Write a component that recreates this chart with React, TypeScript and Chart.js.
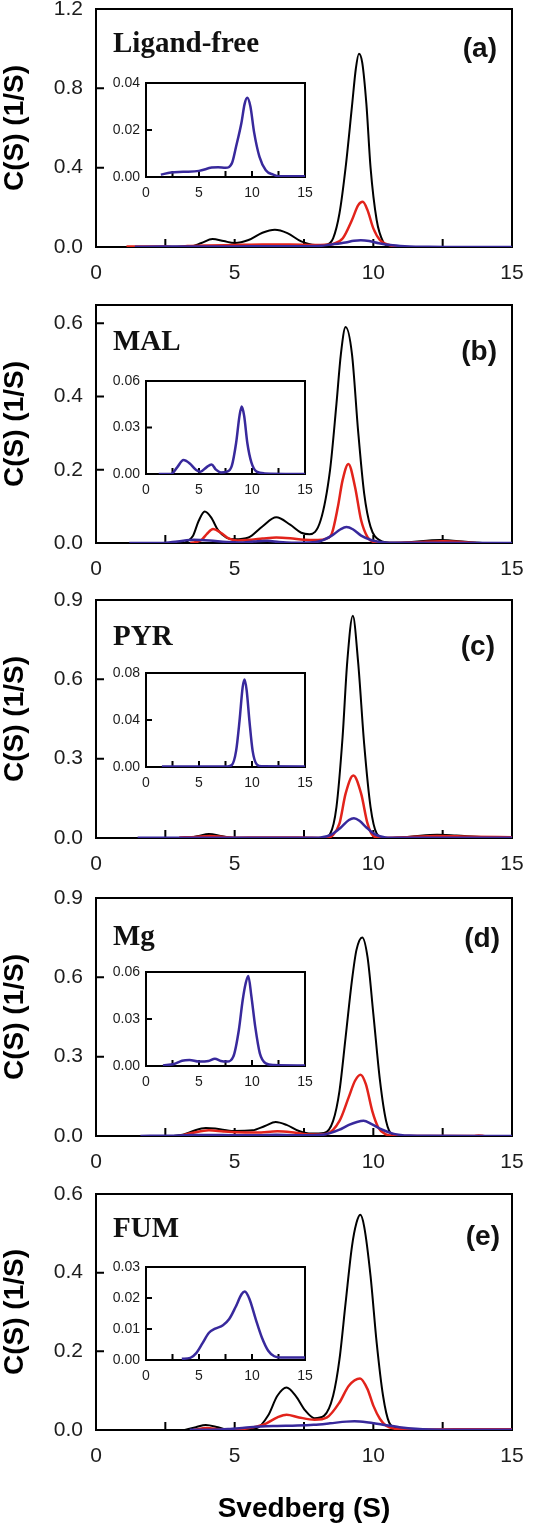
import React, { useEffect, useRef } from "react";
import { Chart, registerables } from "chart.js";

Chart.register(...registerables);
Chart.defaults.font.family = '"Liberation Sans", Arial, sans-serif';

// ---------- x-axis (Svedberg) tick labels ----------
const X_MIN = 0;
const X_MAX = 15;
const X_LABEL_STEP = 5;
const X_MINOR_TICKS = [2.5, 5, 7.5, 10, 12.5];

// ---------- (a) Ligand-free ----------
const A_BLACK_S = [2.4, 3.4, 3.8, 4.2, 4.6, 5.0, 5.5, 6.0, 6.45, 6.9, 7.4, 7.9, 8.3, 8.55, 8.78, 9.0, 9.23, 9.37, 9.48, 9.6, 9.75, 9.9, 10.12, 10.35, 10.57, 10.9, 11.3];
const A_BLACK_C = [0, 0.002, 0.02, 0.04, 0.03, 0.02, 0.035, 0.072, 0.087, 0.07, 0.028, 0.01, 0.012, 0.044, 0.17, 0.4, 0.71, 0.9, 0.975, 0.93, 0.72, 0.4, 0.136, 0.027, 0.005, 0.001, 0];
const A_RED_S = [1.1, 2.5, 2.8, 3.3, 4.0, 5.0, 6.0, 7.0, 7.8, 8.3, 8.55, 8.9, 9.23, 9.45, 9.62, 9.79, 10.0, 10.24, 10.57, 11.0];
const A_RED_C = [0.002, 0.002, 0, 0.005, 0.008, 0.01, 0.012, 0.012, 0.01, 0.011, 0.015, 0.044, 0.136, 0.21, 0.228, 0.186, 0.094, 0.035, 0.01, 0];
const A_BLUE_S = [1.4, 2.35, 3.5, 5.0, 6.2, 6.8, 7.5, 8.1, 8.5, 9.0, 9.3, 9.55, 9.85, 10.2, 10.7, 11.3, 12.0, 12.6, 15];
const A_BLUE_C = [0.001, 0.0019, 0.0022, 0.0026, 0.004, 0.0042, 0.0039, 0.0058, 0.013, 0.023, 0.031, 0.0337, 0.03, 0.019, 0.0087, 0.0029, 0.001, 0.0003, 0.0003];

// ---------- (b) MAL ----------
const B_BLACK_S = [3.2, 3.5, 3.7, 3.92, 4.15, 4.4, 4.7, 5.0, 5.5, 6.0, 6.5, 7.0, 7.4, 7.7, 8.1, 8.44, 8.67, 8.83, 9.0, 9.23, 9.45, 9.67, 9.9, 10.24, 10.6, 11.0, 12.4, 13.5, 14.0];
const B_BLACK_C = [0, 0.02, 0.06, 0.086, 0.07, 0.035, 0.015, 0.01, 0.015, 0.045, 0.07, 0.05, 0.028, 0.024, 0.062, 0.2, 0.38, 0.516, 0.59, 0.516, 0.307, 0.135, 0.044, 0.007, 0.001, 0.001, 0.008, 0.002, 0];
const B_RED_S = [3.4, 3.8, 4.0, 4.22, 4.5, 4.8, 5.1, 5.6, 6.0, 6.5, 7.0, 7.5, 8.0, 8.3, 8.5, 8.72, 8.89, 9.1, 9.34, 9.56, 9.79, 10.0, 10.3, 11.5, 12.5, 13.7];
const B_RED_C = [0, 0.008, 0.025, 0.038, 0.028, 0.012, 0.007, 0.009, 0.012, 0.015, 0.013, 0.009, 0.008, 0.012, 0.025, 0.098, 0.171, 0.216, 0.153, 0.062, 0.016, 0.003, 0, 0.002, 0.005, 0];
const B_BLUE_S = [1.2, 2.35, 2.94, 3.53, 4.1, 4.7, 5.15, 5.7, 6.18, 6.6, 7.06, 7.65, 8.1, 8.5, 8.82, 9.03, 9.26, 9.56, 9.94, 10.44, 11.2, 15];
const B_BLUE_C = [0, 0, 0.0043, 0.009, 0.007, 0.0028, 0.0015, 0.0043, 0.0062, 0.0028, 0.001, 0.0015, 0.0054, 0.02, 0.0375, 0.0435, 0.0375, 0.02, 0.0075, 0.0015, 0.0004, 0];

// ---------- (c) PYR ----------
const C_BLACK_S = [0.8, 3.3, 3.7, 4.07, 4.5, 4.9, 8.2, 8.44, 8.67, 8.89, 9.06, 9.26, 9.45, 9.67, 9.9, 10.12, 10.4, 11.0, 11.6, 12.3, 13.0, 14.0, 15];
const C_BLACK_C = [0, 0, 0.008, 0.015, 0.008, 0, 0, 0.015, 0.117, 0.38, 0.667, 0.84, 0.667, 0.355, 0.117, 0.0175, 0, 0.002, 0.008, 0.012, 0.009, 0.004, 0.003];
const C_RED_S = [3.0, 3.6, 4.1, 4.6, 5.0, 6.0, 7.3, 8.3, 8.55, 8.78, 9.0, 9.28, 9.56, 9.79, 10.0, 10.3, 11.0, 12.3, 13.5, 15];
const C_RED_C = [0.002, 0.004, 0.008, 0.004, 0.001, 0.002, 0.002, 0, 0.012, 0.055, 0.1675, 0.236, 0.1675, 0.055, 0.0075, 0, 0.002, 0.008, 0.005, 0.003];
const C_BLUE_S = [1.5, 7.7, 8.1, 8.5, 8.82, 9.12, 9.3, 9.5, 9.76, 10.06, 10.44, 10.9, 15];
const C_BLUE_C = [0.0005, 0.0005, 0.0017, 0.0137, 0.039, 0.068, 0.0745, 0.065, 0.039, 0.0137, 0.0023, 0.0006, 0.0005];

// ---------- (d) Mg ----------
const D_BLACK_S = [2.8, 3.17, 3.5, 3.96, 4.3, 4.97, 5.64, 6.09, 6.48, 6.87, 7.32, 7.77, 8.22, 8.55, 8.78, 9.0, 9.23, 9.39, 9.6, 9.79, 10.0, 10.24, 10.46, 10.68, 11.0];
const D_BLACK_C = [0, 0.006, 0.019, 0.03, 0.028, 0.019, 0.0215, 0.038, 0.053, 0.042, 0.019, 0.009, 0.011, 0.057, 0.171, 0.373, 0.589, 0.703, 0.751, 0.677, 0.462, 0.209, 0.057, 0.006, 0];
const D_RED_S = [3.0, 3.5, 4.07, 4.6, 5.08, 5.8, 6.54, 7.2, 7.66, 8.3, 8.78, 9.11, 9.34, 9.54, 9.73, 9.96, 10.18, 10.46, 10.8, 13.6, 13.8, 14.0];
const D_RED_C = [0, 0.012, 0.0215, 0.017, 0.014, 0.013, 0.018, 0.012, 0.006, 0.008, 0.057, 0.146, 0.209, 0.232, 0.196, 0.095, 0.032, 0.006, 0, 0, 0.002, 0];
const D_BLUE_S = [1.6, 2.65, 3.4, 4.1, 5.0, 5.9, 6.5, 7.06, 7.65, 8.24, 8.76, 9.12, 9.41, 9.65, 9.94, 10.3, 10.74, 11.3, 12.06, 15];
const D_BLUE_C = [0.0004, 0.0013, 0.0034, 0.0039, 0.0028, 0.0032, 0.0047, 0.0032, 0.0028, 0.006, 0.023, 0.042, 0.053, 0.0575, 0.0446, 0.0253, 0.0081, 0.0017, 0.0006, 0.0003];

// ---------- (e) FUM ----------
const E_BLACK_S = [3.2, 3.6, 3.96, 4.4, 4.8, 5.8, 6.2, 6.54, 6.87, 7.2, 7.55, 7.88, 8.22, 8.55, 8.78, 9.0, 9.23, 9.39, 9.53, 9.67, 9.9, 10.12, 10.35, 10.57, 10.85, 11.2];
const E_BLACK_C = [0, 0.007, 0.013, 0.007, 0, 0.005, 0.036, 0.087, 0.108, 0.087, 0.049, 0.03, 0.036, 0.087, 0.18, 0.323, 0.467, 0.526, 0.547, 0.517, 0.391, 0.222, 0.087, 0.019, 0.004, 0];
const E_RED_S = [3.5, 4.0, 4.5, 5.2, 5.6, 6.09, 6.54, 6.87, 7.32, 7.88, 8.33, 8.78, 9.11, 9.52, 9.79, 10.0, 10.24, 10.46, 10.8, 11.2, 13.0, 15];
const E_RED_C = [0, 0.005, 0.001, 0.002, 0.006, 0.015, 0.032, 0.039, 0.032, 0.026, 0.032, 0.07, 0.112, 0.131, 0.104, 0.062, 0.028, 0.011, 0.003, 0.001, 0.002, 0.002];
const E_BLUE_S = [3.38, 4.18, 4.76, 5.35, 5.94, 6.53, 7.26, 7.85, 8.44, 9.03, 9.32, 9.76, 10.35, 10.94, 11.53, 12.1, 12.7, 15];
const E_BLUE_C = [0.0004, 0.0007, 0.0023, 0.0055, 0.0088, 0.0101, 0.0112, 0.0132, 0.017, 0.0213, 0.0221, 0.0197, 0.0132, 0.0072, 0.003, 0.0012, 0.0008, 0.0008];

// ---------- axis ranges / tick steps ----------
const MAIN_Y_MAX = [1.2, 0.65, 0.9, 0.9, 0.6];
const MAIN_Y_STEP = [0.4, 0.2, 0.3, 0.3, 0.2];
const INSET_Y_MAX = [0.04, 0.06, 0.08, 0.06, 0.03];
const INSET_Y_STEP = [0.02, 0.03, 0.04, 0.03, 0.01];
const PANEL_NAMES = ["Ligand-free", "MAL", "PYR", "Mg", "FUM"];
const PANEL_TAGS = ["(a)", "(b)", "(c)", "(d)", "(e)"];
const Y_TITLE = "C(S) (1/S)";
const X_TITLE = "Svedberg (S)";

const SERIES = [
  [[A_BLACK_S, A_BLACK_C], [A_RED_S, A_RED_C], [A_BLUE_S, A_BLUE_C]],
  [[B_BLACK_S, B_BLACK_C], [B_RED_S, B_RED_C], [B_BLUE_S, B_BLUE_C]],
  [[C_BLACK_S, C_BLACK_C], [C_RED_S, C_RED_C], [C_BLUE_S, C_BLUE_C]],
  [[D_BLACK_S, D_BLACK_C], [D_RED_S, D_RED_C], [D_BLUE_S, D_BLUE_C]],
  [[E_BLACK_S, E_BLACK_C], [E_RED_S, E_RED_C], [E_BLUE_S, E_BLUE_C]],
];

// ---------- layout (pixels) ----------
const PAGE_W = 559;
const PAGE_H = 1526;
const PLOT_LEFT = 96;
const PLOT_RIGHT = 512;
const PANEL_TOP = [9, 305, 600, 898, 1194];
const PANEL_H = [238, 238, 238, 238, 236];
const NAME_DY = [43, 45, 45, 47, 43];
const TAG_DY = [48, 55, 55, 49, 51];
const TAG_RIGHT = [497, 497, 495, 500, 500];
const INSET_LEFT = 146;
const INSET_RIGHT = 305;
const INSET_TOP = [83, 381, 673, 972, 1267];
const INSET_BOTTOM = [177, 474, 767, 1066, 1360];

const COLORS = ["#000000", "#e2231b", "#38299c"];
const WIDTHS = [2, 2.5, 2.5];
const ORDERS = [3, 2, 1];
const TICK_COLOR = "#1c1c1c";

function toPoints(s: number[], c: number[]) {
  return s.map((x, i) => ({ x, y: c[i] }));
}

function innerTicks(max: number, step: number) {
  const out: number[] = [];
  for (let k = 1; k * step < max - 1e-9; k++) out.push(k * step);
  return out;
}

const framePlugin = {
  id: "frame",
  beforeDatasetsDraw(chart: any, _args: any, opts: any) {
    const { ctx, chartArea: a, scales } = chart;
    ctx.save();
    ctx.strokeStyle = "#000";
    ctx.lineWidth = opts.lw;
    ctx.beginPath();
    for (const v of opts.yTicks) {
      const py = scales.y.getPixelForValue(v);
      ctx.moveTo(a.left, py);
      ctx.lineTo(a.left + opts.len, py);
    }
    for (const v of opts.xTicks) {
      const px = scales.x.getPixelForValue(v);
      ctx.moveTo(px, a.bottom);
      ctx.lineTo(px, a.bottom - opts.len);
    }
    ctx.stroke();
    ctx.strokeRect(a.left, a.top, a.right - a.left, a.bottom - a.top);
    ctx.restore();
  },
};

const labelPlugin = {
  id: "panelLabels",
  afterDraw(chart: any, _args: any, opts: any) {
    if (!opts || !opts.name) return;
    const { ctx } = chart;
    ctx.save();
    ctx.fillStyle = "#111";
    ctx.textBaseline = "alphabetic";
    ctx.font = 'bold 29px "Liberation Serif", "DejaVu Serif", serif';
    ctx.textAlign = "left";
    ctx.fillText(opts.name, opts.nameX, opts.nameY);
    ctx.font = 'bold 28px "Liberation Sans", Arial, sans-serif';
    ctx.textAlign = "right";
    ctx.fillText(opts.tag, opts.tagX, opts.tagY);
    ctx.restore();
  },
};

function MainPanel({ i }: { i: number }) {
  const ref = useRef<HTMLCanvasElement>(null);
  const padTop = 20;
  const canvasTop = PANEL_TOP[i] - padTop;
  const last = i === 4;
  const H = last ? PAGE_H - canvasTop : 300;
  useEffect(() => {
    const plotBottom = padTop + PANEL_H[i];
    const datasets = SERIES[i].map(([s, c], k) => ({
      data: toPoints(s, c),
      borderColor: COLORS[k],
      borderWidth: WIDTHS[k],
      pointRadius: 0,
      fill: false,
      cubicInterpolationMode: "monotone" as const,
      order: ORDERS[k],
    }));
    const chart = new Chart(ref.current as HTMLCanvasElement, {
      type: "line",
      data: { datasets },
      plugins: [framePlugin, labelPlugin],
      options: {
        animation: false,
        responsive: false,
        devicePixelRatio: 1,
        layout: { padding: { left: 0, right: PAGE_W - PLOT_RIGHT, top: padTop, bottom: 0 } },
        plugins: {
          legend: { display: false },
          tooltip: { enabled: false },
          frame: { lw: 2, len: 8, xTicks: X_MINOR_TICKS, yTicks: innerTicks(MAIN_Y_MAX[i], MAIN_Y_STEP[i]) },
          panelLabels: {
            name: PANEL_NAMES[i],
            tag: PANEL_TAGS[i],
            nameX: 113,
            nameY: padTop + NAME_DY[i],
            tagX: TAG_RIGHT[i],
            tagY: padTop + TAG_DY[i],
          },
        } as any,
        scales: {
          x: {
            type: "linear",
            min: X_MIN,
            max: X_MAX,
            grid: { display: false, drawTicks: false },
            border: { display: false },
            ticks: { stepSize: X_LABEL_STEP, padding: 14, color: TICK_COLOR, font: { size: 21 }, maxRotation: 0 },
            title: last
              ? { display: true, text: X_TITLE, color: "#000", font: { size: 28, weight: "bold" }, padding: { top: 0, bottom: 0 } }
              : { display: false },
            afterFit: (s: any) => {
              s.height = H - plotBottom;
              s.paddingLeft = 0;
              s.paddingRight = 0;
            },
          },
          y: {
            type: "linear",
            min: 0,
            max: MAIN_Y_MAX[i],
            grid: { display: false, drawTicks: false },
            border: { display: false },
            ticks: {
              stepSize: MAIN_Y_STEP[i],
              includeBounds: false,
              padding: 13,
              color: TICK_COLOR,
              font: { size: 21 },
              callback: (v: any) => Number(v).toFixed(1),
            },
            title: { display: true, text: Y_TITLE, color: "#000", font: { size: 28, weight: "bold" }, padding: { top: -2, bottom: 0 } },
            afterFit: (s: any) => {
              s.width = PLOT_LEFT;
              s.paddingTop = 0;
              s.paddingBottom = 0;
            },
          },
        },
      } as any,
    });
    return () => chart.destroy();
  }, []);
  return (
    <canvas
      ref={ref}
      width={PAGE_W}
      height={H}
      style={{ position: "absolute", left: 0, top: canvasTop, width: PAGE_W, height: H }}
    />
  );
}

function InsetPanel({ i }: { i: number }) {
  const ref = useRef<HTMLCanvasElement>(null);
  const cLeft = 100;
  const padTop = 10;
  const cTop = INSET_TOP[i] - padTop;
  const W = 230;
  const H = 130;
  useEffect(() => {
    const plotBottom = INSET_BOTTOM[i] - cTop;
    const [s, c] = SERIES[i][2];
    const chart = new Chart(ref.current as HTMLCanvasElement, {
      type: "line",
      data: {
        datasets: [
          {
            data: toPoints(s, c),
            borderColor: COLORS[2],
            borderWidth: 2.5,
            pointRadius: 0,
            fill: false,
            cubicInterpolationMode: "monotone" as const,
          },
        ],
      },
      plugins: [framePlugin],
      options: {
        animation: false,
        responsive: false,
        devicePixelRatio: 1,
        layout: { padding: { left: 0, right: W - (INSET_RIGHT - cLeft), top: padTop, bottom: 0 } },
        plugins: {
          legend: { display: false },
          tooltip: { enabled: false },
          frame: { lw: 2, len: 6, xTicks: X_MINOR_TICKS, yTicks: innerTicks(INSET_Y_MAX[i], INSET_Y_STEP[i]) },
        } as any,
        scales: {
          x: {
            type: "linear",
            min: X_MIN,
            max: X_MAX,
            grid: { display: false, drawTicks: false },
            border: { display: false },
            ticks: { stepSize: X_LABEL_STEP, padding: 8, color: TICK_COLOR, font: { size: 14 }, maxRotation: 0 },
            afterFit: (sc: any) => {
              sc.height = H - plotBottom;
              sc.paddingLeft = 0;
              sc.paddingRight = 0;
            },
          },
          y: {
            type: "linear",
            min: 0,
            max: INSET_Y_MAX[i],
            grid: { display: false, drawTicks: false },
            border: { display: false },
            ticks: {
              stepSize: INSET_Y_STEP[i],
              includeBounds: false,
              padding: 6,
              color: TICK_COLOR,
              font: { size: 14 },
              callback: (v: any) => Number(v).toFixed(2),
            },
            afterFit: (sc: any) => {
              sc.width = INSET_LEFT - cLeft;
              sc.paddingTop = 0;
              sc.paddingBottom = 0;
            },
          },
        },
      } as any,
    });
    return () => chart.destroy();
  }, []);
  return (
    <canvas
      ref={ref}
      width={W}
      height={H}
      style={{ position: "absolute", left: cLeft, top: cTop, width: W, height: H }}
    />
  );
}

export default function App() {
  const idx = [0, 1, 2, 3, 4];
  return (
    <div style={{ position: "absolute", left: 0, top: 0, width: PAGE_W, height: PAGE_H, background: "#fff", overflow: "hidden" }}>
      {idx.map((i) => (
        <MainPanel key={"m" + i} i={i} />
      ))}
      {idx.map((i) => (
        <InsetPanel key={"n" + i} i={i} />
      ))}
    </div>
  );
}
